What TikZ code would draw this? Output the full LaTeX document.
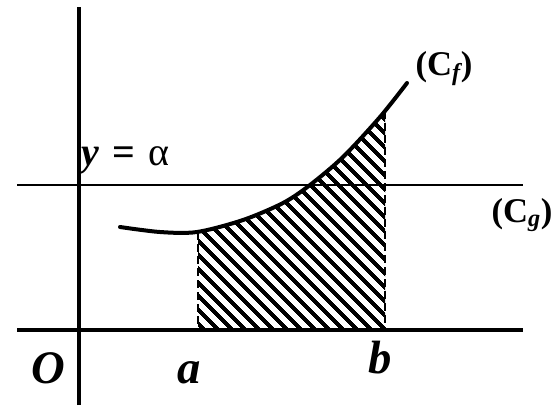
\documentclass[tikz,border=0pt]{standalone}
\usepackage{fontspec}
\setmainfont{Liberation Serif}
\usepackage{tikz}
\usetikzlibrary{patterns.meta}
\definecolor{Ink}{HTML}{000000}
\tikzset{axis/.style={draw=Ink,line width=3.6pt},level/.style={draw=Ink,line width=1.5pt},guide/.style={draw=Ink,line width=1.6pt,dash pattern=on 6pt off 3pt},curvef/.style={draw=Ink,line width=3pt,line cap=round},hatch/.style={pattern={Lines[angle=-45,distance=7.4pt,line width=3pt]},pattern color=Ink},lbl/.style={font=\fontsize{35}{40}\selectfont\bfseries\itshape,inner sep=0pt,anchor=base},clbl/.style={font=\fontsize{26}{30}\selectfont\bfseries,inner sep=0pt,anchor=base}}

\begin{document}
\begin{tikzpicture}[x=.75pt,y=-.75pt]
        \useasboundingbox[fill=white](0,0)rectangle(557,405);
        \coordinate(xl)at(17,330);\coordinate(xr)at(523,330);
        \coordinate(yb)at(79,405);\coordinate(yt)at(79,7);
        \coordinate(gl)at(17,185);\coordinate(gr)at(523,185);
        \coordinate(at)at(198,232);\coordinate(ab)at(198,330);
        \coordinate(bt)at(385,111);\coordinate(bb)at(385,330);
        \begin{scope}
          \clip(198,330)rectangle(385,0);
          \fill[hatch]plot[smooth]coordinates{(120,227)(160,232)(197,232)(243,220)(283,203)(310,185)(343,157)(380,117)(407,83)}|-(120,330)--cycle;
        \end{scope}
        \draw[guide](at)--(ab);
        \draw[guide](bt)--(bb);
        \draw[level](gl)--(gr);
        \draw[axis](xl)--(xr);
        \draw[axis](yb)--(yt);
        \draw[curvef]plot[smooth]coordinates{(120,227)(160,232)(197,232)(243,220)(283,203)(310,185)(343,157)(380,117)(407,83)};
        \node[lbl](O)at(48,383){O};
        \node[lbl](a)at(189,383){a};
        \node[lbl](b)at(380,373){b};
        \node[clbl](cf)at(444,75){(C\textsubscript{\itshape f})};
        \node[clbl](cg)at(522,222){(C\textsubscript{\itshape g})};
        \node[clbl,anchor=base west,font=\fontsize{30}{34}\selectfont\bfseries](alpha)at(81,165){\itshape y\upshape\,\,=\,\,\mdseries α};
      \end{tikzpicture}
\end{document}
